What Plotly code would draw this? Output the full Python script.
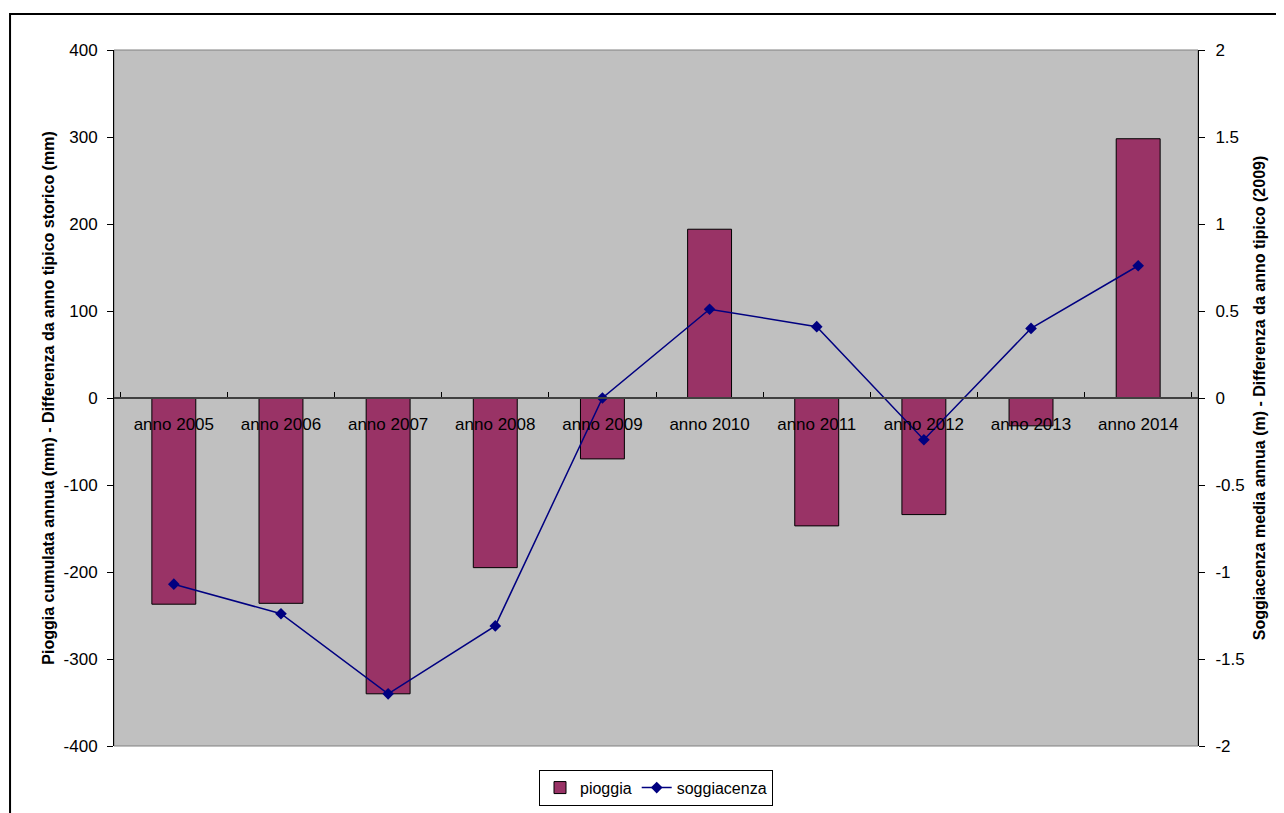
import plotly.graph_objects as go

# data
anni = ["anno 2005", "anno 2006", "anno 2007", "anno 2008", "anno 2009",
        "anno 2010", "anno 2011", "anno 2012", "anno 2013", "anno 2014"]
pioggia = [-237, -236, -340, -195, -70, 194, -147, -134, -32, 298]
soggiacenza = [-1.07, -1.24, -1.70, -1.31, 0.0, 0.51, 0.41, -0.24, 0.40, 0.76]

# axis ticks (plain hyphen minus, as in the original)
tick_mm = [-400, -300, -200, -100, 0, 100, 200, 300, 400]
tick_mm_text = ["-400", "-300", "-200", "-100", "0", "100", "200", "300", "400"]
tick_m = [-2, -1.5, -1, -0.5, 0, 0.5, 1, 1.5, 2]
tick_m_text = ["-2", "-1.5", "-1", "-0.5", "0", "0.5", "1", "1.5", "2"]

FONT = "Liberation Sans, Arial, sans-serif"

fig = go.Figure()

fig.add_trace(go.Bar(
    x=anni, y=pioggia, name="pioggia",
    marker=dict(color="#993366", line=dict(color="black", width=1)),
    width=0.41,
))

fig.add_trace(go.Scatter(
    x=anni, y=soggiacenza, name="soggiacenza", yaxis="y2",
    mode="lines+markers",
    line=dict(color="#000080", width=1.5),
    marker=dict(symbol="diamond", size=9, color="#000080"),
))

# outer chart border
fig.add_shape(type="rect", xref="paper", yref="paper",
              x0=-0.0959, x1=1.0775, y0=-0.2, y1=1.0517,
              line=dict(color="black", width=2), layer="below")
# plot area border (grey)
fig.add_shape(type="rect", xref="paper", yref="paper",
              x0=0, x1=1, y0=0, y1=1,
              line=dict(color="#808080", width=1), layer="below")

# the page body has an 8px margin, so the figure is shrunk by that amount
fig.update_layout(
    width=1276, height=805,
    margin=dict(l=106, r=86, t=42, b=67, autoexpand=False),
    paper_bgcolor="white",
    plot_bgcolor="#C0C0C0",
    font=dict(family=FONT, size=17, color="black"),
    showlegend=True,
    legend=dict(orientation="h", x=0.5, xanchor="center", y=-0.034, yanchor="top",
                bordercolor="black", borderwidth=1, font=dict(size=16),
                itemwidth=30, tracegroupgap=0),
    xaxis=dict(
        type="category",
        anchor="free", position=0.5,
        showline=True, linecolor="#404040", linewidth=1.5,
        ticks="inside", ticklen=5, tickcolor="black",
        tickson="boundaries",
        ticklabelstandoff=11,
        tickfont=dict(size=17),
        showgrid=False, zeroline=False,
    ),
    yaxis=dict(
        range=[-400, 400],
        tickvals=tick_mm, ticktext=tick_mm_text,
        showgrid=False, zeroline=False,
        showline=True, linecolor="black", linewidth=1,
        ticks="outside", ticklen=6, tickcolor="black",
        ticklabelstandoff=6,
        tickfont=dict(size=17),
        title=dict(text="<b>Pioggia cumulata annua (mm) - Differenza da anno tipico storico (mm)</b>",
                   font=dict(size=16), standoff=4),
    ),
    yaxis2=dict(
        range=[-2, 2],
        tickvals=tick_m, ticktext=tick_m_text,
        overlaying="y", side="right",
        showgrid=False, zeroline=False,
        showline=True, linecolor="black", linewidth=1,
        ticks="outside", ticklen=6, tickcolor="black",
        ticklabelstandoff=7,
        tickfont=dict(size=17),
        title=dict(text="<b>Soggiacenza media annua (m) - Differenza da anno tipico (2009)</b>",
                   font=dict(size=16), standoff=10),
    ),
)

fig.write_html("out.html")
